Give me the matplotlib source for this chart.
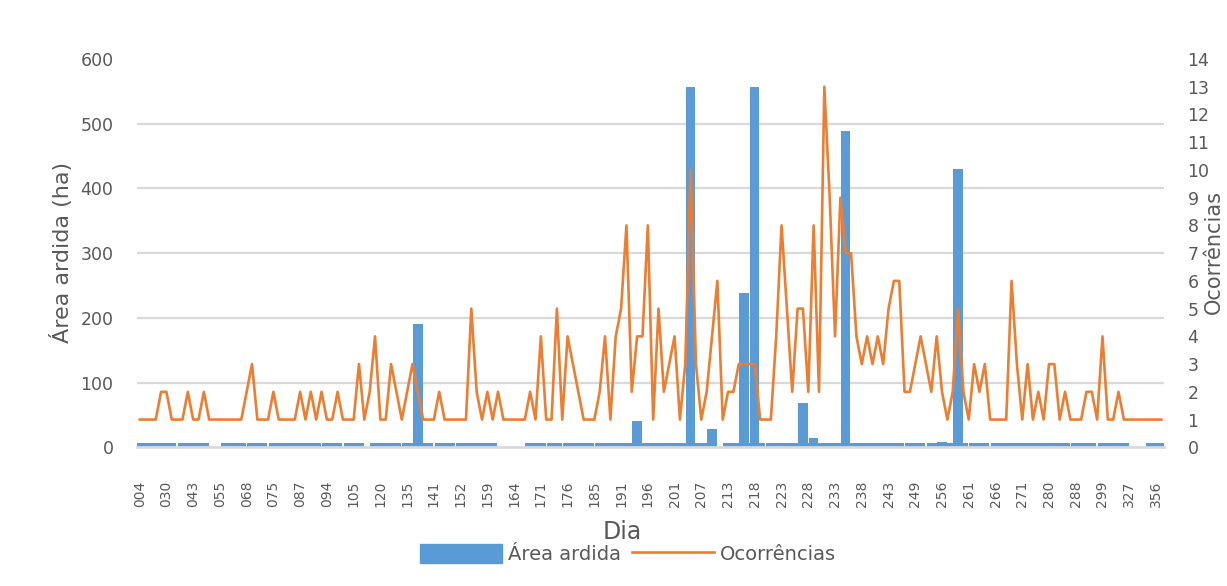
import numpy as np
import matplotlib.pyplot as plt
from matplotlib.patches import Patch
from matplotlib.lines import Line2D

# x tick labels (dia), one every 5 categories
tick_labels = ['004', '030', '043', '055', '068', '075', '087', '094', '105', '120',
               '135', '141', '152', '159', '164', '171', '176', '185', '191', '196',
               '201', '207', '213', '218', '223', '228', '233', '238', '243', '249',
               '256', '261', '266', '271', '280', '288', '299', '327', '356']

# área ardida (ha), one value per day with fire
area = [6, 6, 6, 6, 6, 6, 6, 0, 6, 6,
        6, 6, 6, 0, 0, 0, 6, 6, 6, 6,
        0, 6, 6, 6, 0, 6, 6, 6, 6, 6,
        6, 6, 6, 6, 0, 6, 6, 6, 0, 6,
        6, 6, 0, 0, 6, 6, 6, 6, 6, 0,
        6, 6, 190, 6, 6, 0, 6, 6, 6, 0,
        6, 6, 6, 6, 6, 6, 6, 0, 0, 0,
        0, 0, 0, 6, 6, 6, 0, 6, 6, 0,
        6, 6, 6, 6, 6, 0, 6, 6, 6, 6,
        6, 6, 6, 40, 6, 6, 6, 6, 6, 6,
        6, 6, 6, 557, 6, 6, 6, 28, 0, 0,
        6, 6, 6, 238, 6, 557, 6, 0, 6, 6,
        6, 6, 6, 6, 68, 6, 14, 6, 6, 6,
        6, 6, 489, 6, 6, 6, 6, 6, 6, 6,
        6, 6, 6, 0, 6, 6, 6, 0, 6, 6,
        8, 6, 6, 430, 6, 0, 6, 6, 6, 0,
        6, 6, 6, 6, 6, 6, 6, 6, 6, 6,
        6, 6, 6, 6, 0, 6, 6, 6, 6, 0,
        6, 6, 6, 6, 6, 0, 0, 0, 0, 6,
        6, 6]

# número de ocorrências
ocorrencias = [1, 1, 1, 1, 2, 2, 1, 1, 1, 2,
               1, 1, 2, 1, 1, 1, 1, 1, 1, 1,
               2, 3, 1, 1, 1, 2, 1, 1, 1, 1,
               2, 1, 2, 1, 2, 1, 1, 2, 1, 1,
               1, 3, 1, 2, 4, 1, 1, 3, 2, 1,
               2, 3, 2, 1, 1, 1, 2, 1, 1, 1,
               1, 1, 5, 2, 1, 2, 1, 2, 1, 1,
               1, 1, 1, 2, 1, 4, 1, 1, 5, 1,
               4, 3, 2, 1, 1, 1, 2, 4, 1, 4,
               5, 8, 2, 4, 4, 8, 1, 5, 2, 3,
               4, 1, 3, 10, 3, 1, 2, 4, 6, 1,
               2, 2, 3, 3, 3, 3, 1, 1, 1, 4,
               8, 5, 2, 5, 5, 2, 8, 2, 13, 9,
               4, 9, 7, 7, 4, 3, 4, 3, 4, 3,
               5, 6, 6, 2, 2, 3, 4, 3, 2, 4,
               2, 1, 2, 5, 2, 1, 3, 2, 3, 1,
               1, 1, 1, 6, 3, 1, 3, 1, 2, 1,
               3, 3, 1, 2, 1, 1, 1, 2, 2, 1,
               4, 1, 1, 2, 1, 1, 1, 1, 1, 1,
               1, 1]

blue = '#5B9BD5'
orange = '#ED7D31'
grey = '#595959'
gridc = '#D9D9D9'

W, H = 1227, 586
fig = plt.figure(figsize=(W / 100, H / 100), dpi=100)
ax = fig.add_axes([137 / W, 1 - 447.3 / H, (1164 - 137) / W, (447.3 - 59) / H])

x = np.arange(len(area))
ax.bar(x, area, width=1.75, color=blue, zorder=2)
ax.set_xlim(-0.5, len(area) - 0.5)
ax.set_ylim(0, 600)
for v in range(100, 600, 100):
    ax.axhline(v, color=gridc, lw=1.6, zorder=0)
ax.set_yticks(range(0, 700, 100))
ax.set_xticks(np.arange(0, 5 * len(tick_labels), 5))
ax.set_xticklabels(tick_labels, rotation=90)
ax.tick_params(axis='x', length=0, pad=24, labelsize=10, labelcolor=grey)
ax.tick_params(axis='y', length=0, pad=17, labelsize=12.5, labelcolor=grey)
for s in ['top', 'left', 'right']:
    ax.spines[s].set_visible(False)
ax.spines['bottom'].set_color(gridc)
ax.spines['bottom'].set_linewidth(2)

ax2 = ax.twinx()
ax2.plot(x, ocorrencias, color=orange, lw=1.9, zorder=3)
ax2.set_ylim(0, 14)
ax2.set_yticks(range(0, 15))
ax2.tick_params(axis='y', length=0, pad=17, labelsize=12.5, labelcolor=grey)
for s in ax2.spines.values():
    s.set_visible(False)

fig.text(61 / W, 1 - 252 / H, 'Área ardida (ha)', rotation=90, ha='center', va='center',
         fontsize=16, color=grey)
fig.text(1204 / W, 1 - 252 / H, 'Ocorrências', rotation=90, ha='left', va='center',
         fontsize=15, color=grey)
fig.text(622 / W, 1 - 532 / H, 'Dia', ha='center', va='center', fontsize=17, color=grey)

handles = [Patch(color=blue), Line2D([], [], color=orange, lw=1.9)]
fig.legend(handles, ['Área ardida', 'Ocorrências'], loc='center', ncol=2,
           bbox_to_anchor=(628 / W, 1 - 554 / H), frameon=False, fontsize=14,
           labelcolor=grey, handlelength=4.2, handleheight=1.1, columnspacing=0.6,
           handletextpad=0.3)

fig.savefig('out.png', dpi=100)
